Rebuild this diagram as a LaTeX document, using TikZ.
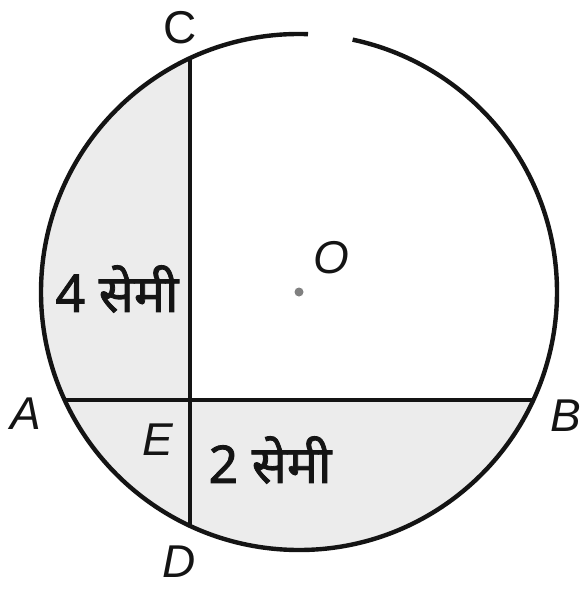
\documentclass[tikz,border=0pt]{standalone}
\usepackage{fontspec}
\setsansfont{Liberation Sans}
\newfontfamily\devfont[Script=Devanagari, FakeBold=1.6]{Noto Sans}
\usepackage{tikz}
\usetikzlibrary{calc}
\definecolor{mydark}{RGB}{20,20,20}
\definecolor{myshade}{RGB}{236,236,236}
\tikzset{
  rim/.style={line width=4.4pt, color=mydark},
  chord/.style={line width=4.2pt, color=mydark},
  ptlabel/.style={font=\fontsize{46}{50}\selectfont\sffamily\itshape, color=mydark, inner sep=0pt},
  seglabel/.style={font=\fontsize{52}{56}\selectfont\devfont, color=mydark, inner sep=0pt},
  centre/.style={circle, fill=gray, minimum size=9pt, inner sep=0pt}
}

\begin{document}
\begin{tikzpicture}[x=1pt, y=-1pt]
  \useasboundingbox (0,0) rectangle (586,599);
  \coordinate (O) at (299,292);
  \coordinate (C) at (190,58);
  \coordinate (D) at (190,526);
  \coordinate (A) at (65,400);
  \coordinate (B) at (533,400);
  \coordinate (E) at (190,400);
  % shaded segments
  \begin{scope}
    \clip (O) circle (258pt);
    \fill[myshade] (0,0) rectangle (E |- 0,599);
    \fill[myshade] (0,599) rectangle (586,400);
  \end{scope}
  % circle with the small break at the top
  \draw[rim] ($(O)+(88:258pt)$) arc (88:438:258pt);
  \draw[chord] (C) -- (D);
  \draw[chord] (A) -- (B);
  \node[centre] (o) at (O) {};
  % labels
  \node[ptlabel, font=\fontsize{46}{50}\selectfont\sffamily] (lc) at (180,28) {C};
  \node[ptlabel] (la) at (26,414) {A};
  \node[ptlabel] (lb) at (566,416) {B};
  \node[ptlabel] (ld) at (179,562) {D};
  \node[ptlabel] (le) at (158,440) {E};
  \node[ptlabel] (lo) at (331,258) {O};
  \node[seglabel] (lce) at (117,289) {4 सेमी};
  \node[seglabel] (leb) at (270,460) {2 सेमी};
\end{tikzpicture}
\end{document}
